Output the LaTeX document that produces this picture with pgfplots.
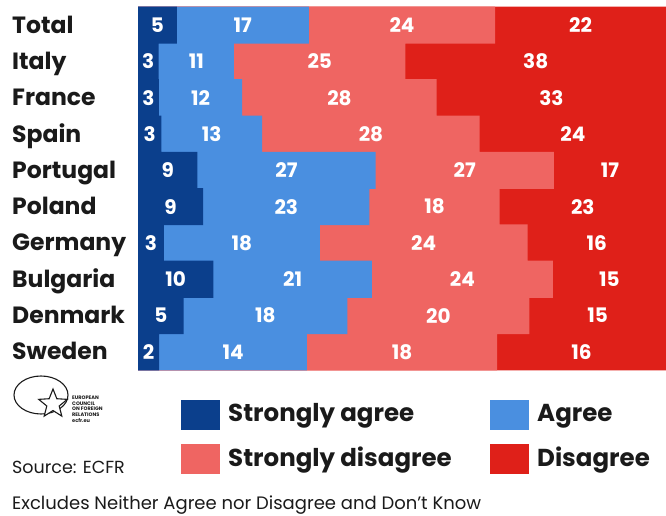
\documentclass[border=0pt]{standalone}
\usepackage{fontspec}
\setmainfont{Poppins}
\usepackage{pgfplots}
\usepackage{pgfplotstable}
\pgfplotsset{compat=1.18}
\usetikzlibrary{shapes.geometric}

\definecolor{sagree}{HTML}{0B3F8C}
\definecolor{agree}{HTML}{4A8FE0}
\definecolor{sdis}{HTML}{EF6562}
\definecolor{dis}{HTML}{DF2019}
\definecolor{ink}{HTML}{1A1A1A}

% strongly agree, agree, strongly disagree, disagree (%)
\pgfplotstableread{
name sa a sd d
Total 5 17 24 22
Italy 3 11 25 38
France 3 12 28 33
Spain 3 13 28 24
Portugal 9 27 27 17
Poland 9 23 18 23
Germany 3 18 24 16
Bulgaria 10 21 24 15
Denmark 5 18 20 15
Sweden 2 14 18 16
}\survey

% each row is stretched to the full width
\pgfplotstablecreatecol[create col/expr={\thisrow{sa}+\thisrow{a}+\thisrow{sd}+\thisrow{d}}]{tot}\survey
\pgfplotstablecreatecol[create col/expr={100*\thisrow{sa}/\thisrow{tot}}]{c1}\survey
\pgfplotstablecreatecol[create col/expr={100*(\thisrow{sa}+\thisrow{a})/\thisrow{tot}}]{c2}\survey
\pgfplotstablecreatecol[create col/expr={100*(\thisrow{sa}+\thisrow{a}+\thisrow{sd})/\thisrow{tot}}]{c3}\survey
\pgfplotstablecreatecol[create col/expr={100}]{c4}\survey
\pgfplotstablecreatecol[create col/expr={\thisrow{c1}/2}]{m1}\survey
\pgfplotstablecreatecol[create col/expr={(\thisrow{c1}+\thisrow{c2})/2}]{m2}\survey
\pgfplotstablecreatecol[create col/expr={(\thisrow{c2}+\thisrow{c3})/2}]{m3}\survey
\pgfplotstablecreatecol[create col/expr={(\thisrow{c3}+100)/2}]{m4}\survey

\newcommand{\fs}[1]{\fontsize{#1bp}{1.2\dimexpr#1bp\relax}\selectfont}

\begin{document}
\begin{tikzpicture}
\useasboundingbox (0,0) rectangle (666bp,516bp);
\begin{axis}[
    at={(138bp,146bp)}, anchor=south west,
    scale only axis, width=528bp, height=363bp,
    xmin=0, xmax=100, ymin=0.5, ymax=10.5, y dir=reverse,
    axis line style={draw=none}, tick style={draw=none},
    xtick=\empty, ytick={1,...,10},
    yticklabels from table={\survey}{name},
    yticklabel style={anchor=west, xshift=-126bp, inner sep=0pt,
        text height=20bp, text depth=4bp, text=ink,
        font=\bfseries\fs{23.5}},
    clip=false,
    seg/.style={xbar, bar width=1.02, draw=none, fill=#1},
    lab/.style={draw=none, mark=none, nodes near coords,
        point meta=explicit symbolic,
        nodes near coords align={anchor=center},
        every node near coord/.append style={text=white, font=\bfseries\fs{20}}},
]
\addplot[seg=dis] table[x=c4, y expr=\coordindex+1]{\survey};
\addplot[seg=sdis] table[x=c3, y expr=\coordindex+1]{\survey};
\addplot[seg=agree] table[x=c2, y expr=\coordindex+1]{\survey};
\addplot[seg=sagree] table[x=c1, y expr=\coordindex+1]{\survey};

\addplot[lab] table[x=m1, y expr=\coordindex+1, meta=sa]{\survey};
\addplot[lab] table[x=m2, y expr=\coordindex+1, meta=a]{\survey};
\addplot[lab] table[x=m3, y expr=\coordindex+1, meta=sd]{\survey};
\addplot[lab] table[x=m4, y expr=\coordindex+1, meta=d]{\survey};
\end{axis}

% legend
\fill[sagree] (181bp,86bp) rectangle (220bp,116bp);
\fill[agree] (490bp,86bp) rectangle (529bp,116bp);
\fill[sdis] (181bp,42bp) rectangle (220bp,72bp);
\fill[dis] (490bp,42bp) rectangle (529bp,72bp);
\begin{scope}[every node/.style={anchor=west, inner sep=0pt, text=ink, font=\bfseries\fs{24.5}}]
\node at (228bp,100bp) {Strongly agree};
\node at (537bp,100bp) {Agree};
\node at (228bp,56bp) {Strongly disagree};
\node at (537bp,56bp) {Disagree};
\end{scope}

% ECFR logo
\draw[ink, line width=1.1bp] (41bp,121bp) ellipse [x radius=27bp, y radius=19bp];
\node[star, star points=5, star point ratio=2.3, draw=ink, fill=white,
      line width=1.1bp, minimum size=30bp, inner sep=0pt] at (53bp,112bp) {};
\node[anchor=north west, inner sep=0pt, align=left, text=ink,
      font=\bfseries\fontsize{5bp}{5.6bp}\selectfont] at (72bp,120bp)
      {EUROPEAN\\COUNCIL\\ON FOREIGN\\RELATIONS\\ecfr.eu};

\node[anchor=west, inner sep=0pt, text=ink, font=\fs{17.5}] at (12bp,49bp) {Source: ECFR};
\node[anchor=west, inner sep=0pt, text=ink, font=\fs{18}] at (12bp,11bp)
      {Excludes Neither Agree nor Disagree and Don’t Know};
\end{tikzpicture}
\end{document}
